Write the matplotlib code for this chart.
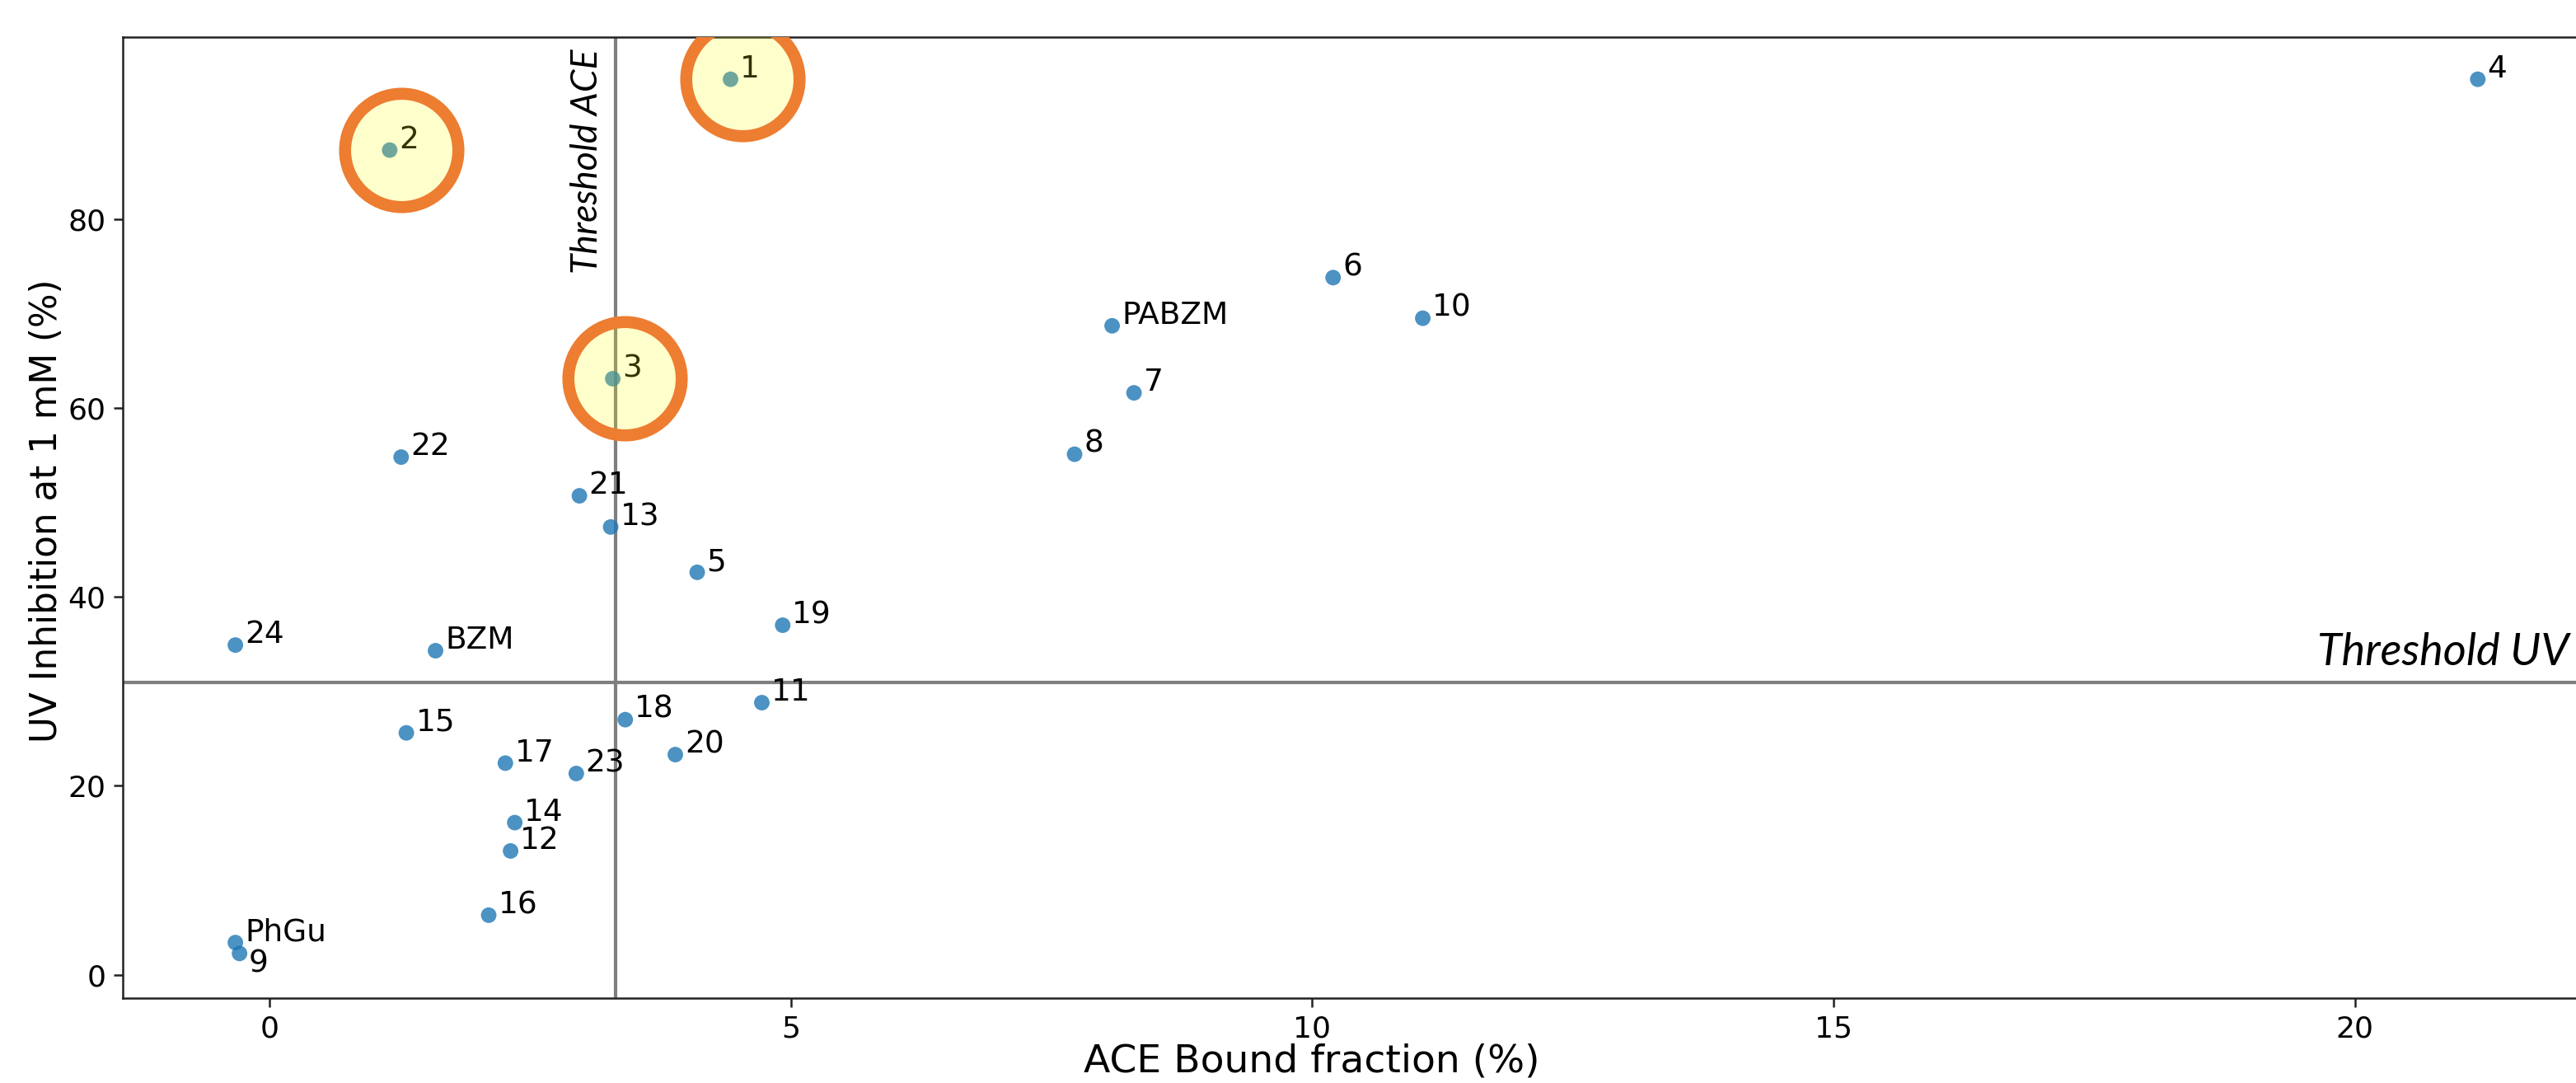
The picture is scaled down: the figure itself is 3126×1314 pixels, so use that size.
import matplotlib
matplotlib.use("Agg")
import matplotlib.pyplot as plt
import matplotlib.transforms as mtransforms

# ---- data ----
labels = ['1', '2', '3', '4', '5', '6', '7', '8', '9', '10', '11', '12', '13', '14',
          '15', '16', '17', '18', '19', '20', '21', '22', '23', '24', 'BZM', 'PABZM', 'PhGu']
ace_bound = [4.42, 1.15, 3.29, 21.18, 4.10, 10.20, 8.29, 7.72, -0.29, 11.06, 4.72, 2.31,
             3.27, 2.35, 1.31, 2.10, 2.26, 3.41, 4.92, 3.89, 2.97, 1.26, 2.94, -0.33,
             1.59, 8.08, -0.33]
uv_inhibition = [94.8, 87.3, 63.1, 94.8, 42.6, 73.8, 61.6, 55.1, 2.25, 69.5, 28.8, 13.1,
                 47.4, 16.1, 25.6, 6.3, 22.4, 27.0, 37.0, 23.3, 50.7, 54.8, 21.3, 34.9,
                 34.3, 68.7, 3.4]
highlighted = ['1', '2', '3']
threshold_ace = 3.316
threshold_uv = 30.9
x_ticks = [0, 5, 10, 15, 20]
y_ticks = [0, 20, 40, 60, 80]

W, H, DPI = 3126, 1314, 100
fig = plt.figure(figsize=(W / DPI, H / DPI), dpi=DPI)
ax_left, ax_right = 149 / W, 3148.5 / W
ax_bottom, ax_top = (H - 1211) / H, (H - 44.6) / H
ax = fig.add_axes([ax_left, ax_bottom, ax_right - ax_left, ax_top - ax_bottom])

ax.set_xlim(-1.41, 22.3)
ax.set_ylim(-2.48, 99.3)

for s in ax.spines.values():
    s.set_linewidth(1.8)
    s.set_color('#222222')

ax.set_xticks(x_ticks)
ax.set_yticks(y_ticks)
ax.tick_params(axis='both', which='major', length=7.9, width=1.8, pad=7.0,
               labelsize=26, color='#222222')

# threshold lines
ax.axvline(threshold_ace, color='#7f7f7f', lw=3.0, zorder=1)
ax.axhline(threshold_uv, color='#7f7f7f', lw=3.0, zorder=1)

# points
ax.scatter(ace_bound, uv_inhibition, s=185, color='#1f77b4', alpha=0.8,
           edgecolors='none', zorder=3)

# labels
for lab, xv, yv in zip(labels, ace_bound, uv_inhibition):
    dy = -2.0 if lab == '9' else 0.2
    ax.text(xv + 0.09, yv + dy, lab, fontsize=27, ha='left', va='baseline',
            color='black', zorder=4)

# highlight circles
hx = [x for l, x in zip(labels, ace_bound) if l in highlighted]
hy = [y for l, y in zip(labels, uv_inhibition) if l in highlighted]
off = mtransforms.offset_copy(ax.transData, fig=fig, x=14, y=0, units='dots')
ax.scatter(hx, hy, s=9800, facecolors=(1, 1, 0, 0.2), edgecolors='#ED7D31',
           linewidths=10.5, transform=off, zorder=5)

# threshold texts
ax.text(threshold_ace - 0.17, 98.0, 'Threshold ACE', rotation=90,
        rotation_mode='anchor', ha='right', va='baseline', fontsize=32,
        family='Lato', style='italic', zorder=4)
trans = mtransforms.blended_transform_factory(ax.transAxes, ax.transData)
ax.text(0.9898, 32.8, 'Threshold UV', transform=trans, ha='right', va='baseline',
        fontsize=39, family='Lato', style='italic', zorder=4)

ax.set_xlabel('ACE Bound fraction (%)', fontsize=34)
ax.set_ylabel('UV Inhibition at 1 mM (%)', fontsize=31.5)
ax.xaxis.set_label_coords(0.481, -0.047)
ax.yaxis.set_label_coords(-0.0237, 0.507)

fig.savefig('out.png', dpi=DPI)
